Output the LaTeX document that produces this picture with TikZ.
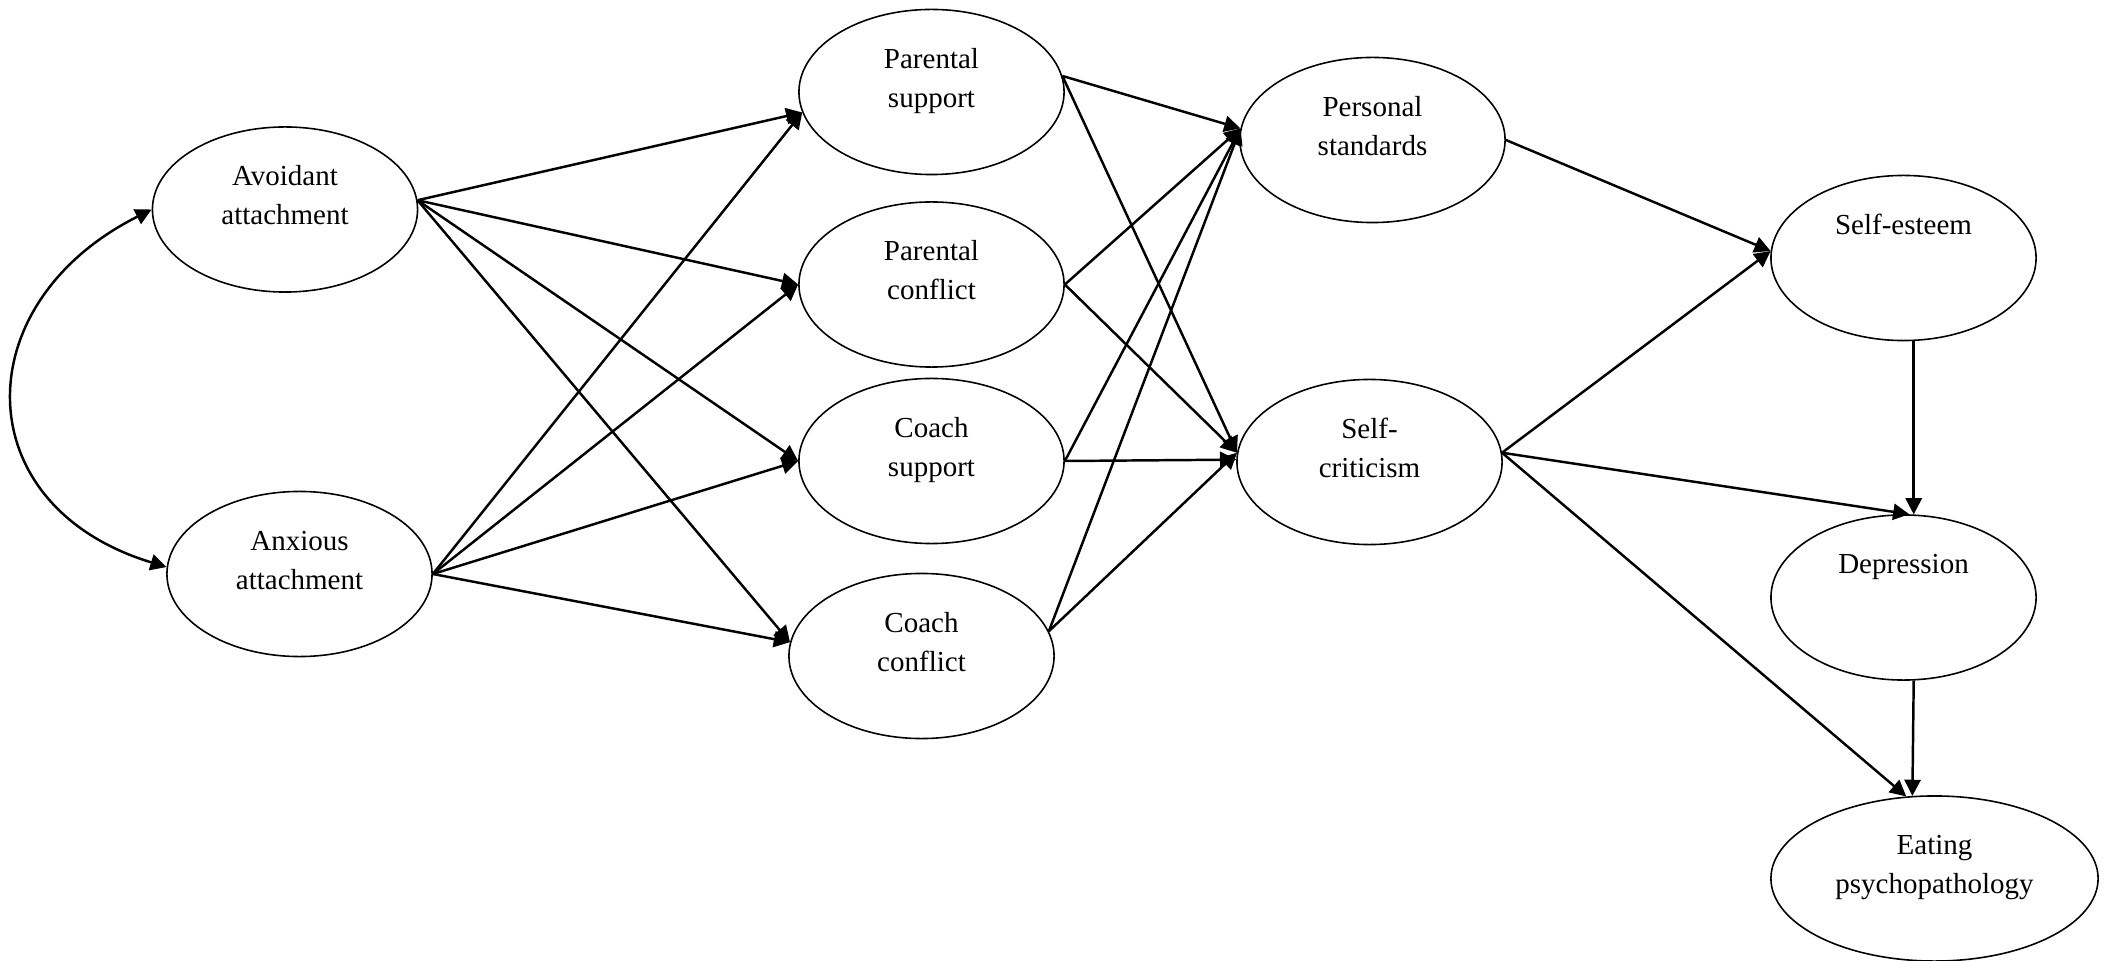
\documentclass[tikz,border=0pt]{standalone}
\usepackage{fontspec}
\setmainfont{Liberation Serif}
\usetikzlibrary{shapes.geometric,arrows.meta}

\tikzset{
  latent/.style={draw, ellipse, line width=0.45pt, minimum width=2.65cm, minimum height=1.65cm,
    inner sep=0pt, align=center, font=\fontsize{8.25}{11.1}\selectfont,
    text height=17.1pt, text depth=8.3pt},
  oneline/.style={text height=6pt, text depth=19.4pt},
  effect/.style={line width=0.7pt, -{Triangle[length=4.6pt,width=4.6pt]}},
  covar/.style={line width=0.7pt, {Triangle[length=4.6pt,width=4.6pt]}-{Triangle[length=4.6pt,width=4.6pt]}},
}

\begin{document}
\begin{tikzpicture}[x=0.01cm, y=-0.01cm]
\useasboundingbox (0,0) rectangle (2109,961);

% attachment
\node[latent] (avoid) at (285,209.5) {Avoidant\\attachment};
\node[latent] (anx) at (299.5,574) {Anxious\\attachment};

% relationships
\node[latent] (psupp) at (931.5,92) {Parental\\support};
\node[latent] (pconf) at (931.5,284.5) {Parental\\conflict};
\node[latent] (csupp) at (931.5,461) {Coach\\support};
\node[latent] (cconf) at (921.5,656) {Coach\\conflict};

% perfectionism
\node[latent] (pstd) at (1372.5,140) {Personal\\standards};
\node[latent] (scrit) at (1369.5,462) {Self-\\criticism};

% outcomes
\node[latent, oneline] (sest) at (1903.5,258) {Self-esteem};
\node[latent, oneline] (dep) at (1903.5,597.5) {Depression};
\node[latent, minimum width=3.27cm] (eat) at (1934.5,878.5) {Eating\\psychopathology};

\draw[covar] (avoid.west) .. controls +(-187,94) and +(-201,-61) .. (anx.177);

\draw[effect] (avoid.4) -- (psupp.189);
\draw[effect] (avoid.4) -- (pconf.west);
\draw[effect] (avoid.4) -- (csupp.west);
\draw[effect] (avoid.4) -- (cconf.174);
\draw[effect] (anx.east) -- (psupp.189);
\draw[effect] (anx.east) -- (pconf.west);
\draw[effect] (anx.east) -- (csupp.west);
\draw[effect] (anx.east) -- (cconf.174);

\draw[effect] (psupp.7) -- (pstd.175);
\draw[effect] (psupp.7) -- (scrit.176);
\draw[effect] (pconf.east) -- (pstd.175);
\draw[effect] (pconf.east) -- (scrit.176);
\draw[effect] (csupp.east) -- (pstd.175);
\draw[effect] (csupp.east) -- (scrit.179);
\draw[effect] (cconf.11) -- (pstd.175);
\draw[effect] (cconf.11) -- (scrit.176);

\draw[effect] (pstd.east) -- (sest.177);
\draw[effect] (scrit.4) -- (sest.177);
\draw[effect] (scrit.4) -- (dep.86);
\draw[effect] (scrit.4) -- (eat.109);
\draw[effect] (sest.277) -- (dep.83);
\draw[effect] (dep.277) -- (eat.105);
\end{tikzpicture}
\end{document}
